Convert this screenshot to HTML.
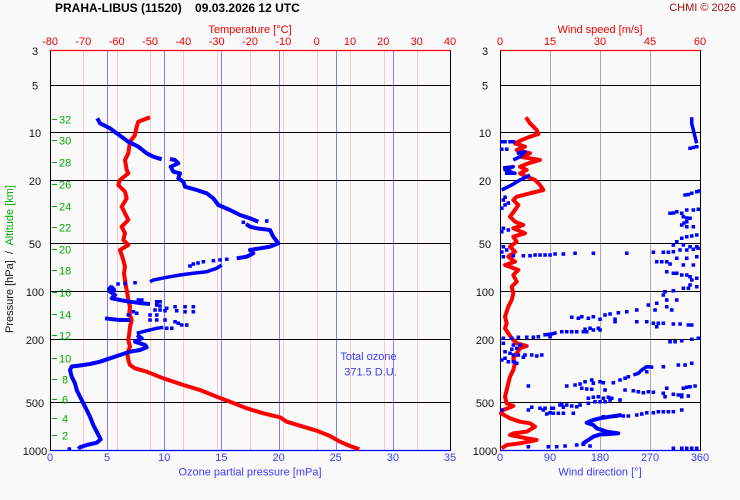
<!DOCTYPE html>
<html><head><meta charset="utf-8"><style>
html,body{margin:0;padding:0;background:#fafafa;}
svg{display:block;}
text{font-family:"Liberation Sans",Arial,sans-serif;font-size:11px;}
</style></head><body>
<svg width="740" height="500" viewBox="0 0 740 500" xmlns="http://www.w3.org/2000/svg">
<rect width="740" height="500" fill="#fafafa"/>
<!-- titles -->
<text x="55" y="12" font-weight="bold" style="font-size:12px" fill="#000" xml:space="preserve">PRAHA-LIBUS (11520)    09.03.2026 12 UTC</text>
<text x="736" y="11" text-anchor="end" fill="#a01010">CHMI © 2026</text>
<text x="250" y="33" text-anchor="middle" fill="#e00">Temperature [°C]</text>
<text x="600" y="33" text-anchor="middle" fill="#e00">Wind speed [m/s]</text>
<g fill="#e00" text-anchor="middle">
<text x="50" y="45">-80</text><text x="83.3" y="45">-70</text><text x="116.7" y="45">-60</text><text x="150" y="45">-50</text><text x="183.3" y="45">-40</text><text x="216.7" y="45">-30</text><text x="250" y="45">-20</text><text x="283.3" y="45">-10</text><text x="316.7" y="45">0</text><text x="350" y="45">10</text><text x="383.3" y="45">20</text><text x="416.7" y="45">30</text><text x="450" y="45">40</text>
<text x="500" y="45">0</text><text x="550" y="45">15</text><text x="600" y="45">30</text><text x="650" y="45">45</text><text x="700" y="45">60</text>
</g>
<!-- grid left -->
<g stroke="#ffc4c4" stroke-width="1">
<line x1="83.5" y1="50" x2="83.5" y2="450"/><line x1="117.5" y1="50" x2="117.5" y2="450"/><line x1="150.5" y1="50" x2="150.5" y2="450"/><line x1="183.5" y1="50" x2="183.5" y2="450"/><line x1="217.5" y1="50" x2="217.5" y2="450"/><line x1="250.5" y1="50" x2="250.5" y2="450"/><line x1="283.5" y1="50" x2="283.5" y2="450"/><line x1="317.5" y1="50" x2="317.5" y2="450"/><line x1="350.5" y1="50" x2="350.5" y2="450"/><line x1="384.5" y1="50" x2="384.5" y2="450"/><line x1="417.5" y1="50" x2="417.5" y2="450"/>
</g>
<g stroke="#8080ff" stroke-width="1">
<line x1="107.5" y1="50" x2="107.5" y2="450"/><line x1="164.5" y1="50" x2="164.5" y2="450"/><line x1="221.5" y1="50" x2="221.5" y2="450"/><line x1="279.5" y1="50" x2="279.5" y2="450"/><line x1="336.5" y1="50" x2="336.5" y2="450"/><line x1="393.5" y1="50" x2="393.5" y2="450"/>
</g>
<g stroke="#aaa" stroke-width="1">
<line x1="550.5" y1="50" x2="550.5" y2="450"/><line x1="600.5" y1="50" x2="600.5" y2="450"/><line x1="650.5" y1="50" x2="650.5" y2="450"/>
</g>
<!-- horizontal pressure lines -->
<g stroke="#000" stroke-width="1">
<line x1="50" y1="85.5" x2="451" y2="85.5"/><line x1="50" y1="132.5" x2="451" y2="132.5"/><line x1="50" y1="180.5" x2="451" y2="180.5"/><line x1="50" y1="243.5" x2="451" y2="243.5"/><line x1="50" y1="291.5" x2="451" y2="291.5"/><line x1="50" y1="339.5" x2="451" y2="339.5"/><line x1="50" y1="402.5" x2="451" y2="402.5"/>
<line x1="500" y1="85.5" x2="701" y2="85.5"/><line x1="500" y1="132.5" x2="701" y2="132.5"/><line x1="500" y1="180.5" x2="701" y2="180.5"/><line x1="500" y1="243.5" x2="701" y2="243.5"/><line x1="500" y1="291.5" x2="701" y2="291.5"/><line x1="500" y1="339.5" x2="701" y2="339.5"/><line x1="500" y1="402.5" x2="701" y2="402.5"/>
<line x1="50.5" y1="50" x2="50.5" y2="451"/><line x1="450.5" y1="50" x2="450.5" y2="451"/>
<line x1="500.5" y1="50" x2="500.5" y2="451"/><line x1="700.5" y1="50" x2="700.5" y2="451"/>
</g>
<g stroke="#f00" stroke-width="1.2"><line x1="50" y1="50.5" x2="451" y2="50.5"/><line x1="500" y1="50.5" x2="701" y2="50.5"/></g>
<g stroke="#00f" stroke-width="1.2"><line x1="50" y1="450.5" x2="451" y2="450.5"/><line x1="500" y1="450.5" x2="701" y2="450.5"/></g>
<!-- pressure labels -->
<g fill="#111" text-anchor="middle">
<text x="35" y="55">3</text><text x="35" y="89.5">5</text><text x="35" y="137">10</text><text x="35" y="185">20</text><text x="35" y="248">50</text><text x="35" y="296">100</text><text x="35" y="344">200</text><text x="35" y="407">500</text><text x="35" y="455">1000</text>
<text x="485" y="55">3</text><text x="485" y="89.5">5</text><text x="485" y="137">10</text><text x="485" y="185">20</text><text x="485" y="248">50</text><text x="485" y="296">100</text><text x="485" y="344">200</text><text x="485" y="407">500</text><text x="485" y="455">1000</text>
</g>
<!-- altitude ticks -->
<g stroke="#0a0" stroke-width="1">
<line x1="52" y1="119.5" x2="57" y2="119.5"/><line x1="52" y1="140.5" x2="57" y2="140.5"/><line x1="52" y1="162.5" x2="57" y2="162.5"/><line x1="52" y1="184.5" x2="57" y2="184.5"/><line x1="52" y1="206.5" x2="57" y2="206.5"/><line x1="52" y1="227.5" x2="57" y2="227.5"/><line x1="52" y1="249.5" x2="57" y2="249.5"/><line x1="52" y1="270.5" x2="57" y2="270.5"/><line x1="52" y1="292.5" x2="57" y2="292.5"/><line x1="52" y1="314.5" x2="57" y2="314.5"/><line x1="52" y1="335.5" x2="57" y2="335.5"/><line x1="52" y1="358.5" x2="57" y2="358.5"/><line x1="52" y1="379.5" x2="57" y2="379.5"/><line x1="52" y1="399.5" x2="57" y2="399.5"/><line x1="52" y1="418.5" x2="57" y2="418.5"/><line x1="52" y1="435.5" x2="57" y2="435.5"/>
</g>
<g fill="#0a0">
<text x="59" y="123.5">32</text><text x="59" y="144.5">30</text><text x="59" y="166.5">28</text><text x="59" y="188.5">26</text><text x="59" y="210.5">24</text><text x="59" y="231.5">22</text><text x="59" y="253.5">20</text><text x="59" y="274.5">18</text><text x="59" y="296.5">16</text><text x="59" y="318.5">14</text><text x="59" y="339.5">12</text><text x="59" y="362.5">10</text><text x="62" y="383.5">8</text><text x="62" y="403.5">6</text><text x="62" y="422.5">4</text><text x="62" y="439.5">2</text>
</g>
<text transform="translate(13,259) rotate(-90)" text-anchor="middle" fill="#111" xml:space="preserve">Pressure [hPa]  /  <tspan fill="#0a0">Altitude [km]</tspan></text>
<!-- bottom labels -->
<g fill="#3a3aff" text-anchor="middle">
<text x="50" y="461">0</text><text x="107.1" y="461">5</text><text x="164.3" y="461">10</text><text x="221.4" y="461">15</text><text x="278.6" y="461">20</text><text x="335.7" y="461">25</text><text x="392.9" y="461">30</text><text x="450" y="461">35</text>
<text x="500" y="461">0</text><text x="550" y="461">90</text><text x="600" y="461">180</text><text x="650" y="461">270</text><text x="700" y="461">360</text>
<text x="250" y="475.5">Ozone partial pressure [mPa]</text>
<text x="600" y="475.5">Wind direction [°]</text>
<text x="368.5" y="360">Total ozone</text>
<text x="370.5" y="375.5">371.5 D.U.</text>
</g>
<!-- temperature -->
<polyline fill="none" stroke="#f00" stroke-width="4" stroke-linejoin="round" points="150,117.3 138.3,121.7 136.7,126.7 135,135 130,141.7 128.3,153.3 125,160 126.7,170 128.3,173.3 120,180 118.3,185 125,191.7 126.7,198.3 121.7,206.7 125,213.3 128.3,220 121.7,226.7 125,233.3 123.3,240 128.3,245 120,250 121.7,255 123.3,260 125,266.7 124,273.3 125,280 126,286.7 127.3,293.3 128.3,300 130,306.7 129.3,313.3 131.7,320 130,326.7 129.3,333.3 128.3,340 130,346.7 127.3,353.3 128.3,360 130,365 135,368.3 146.7,371.7 163.3,378.3 183.3,385 200,390 216.7,396.7 230,401.7 246.7,408.3 263.3,413.3 280,417.3 286.7,421.7 303.3,426.7 316.7,430.7 330,436 340,441.7 350,446 359.3,449.3"/>
<!-- ozone -->
<g fill="none" stroke="#00f" stroke-width="4" stroke-linejoin="round">
<polyline points="97.3,118.3 100,123.3 110,128.3 116.7,133.3 128.3,141.7 138.3,146.7 146.7,153.3 153.3,156.7 161.7,159.3"/>
<polyline points="170,159 175,160 178.3,163.3 170.7,166.7 173.3,171.7 180,173.3 178.3,178.3 183.3,181.7 185,186.7 196.7,190 206.7,193.3 213.3,198.3 218.3,205 230,210 240,215 250,218.3 258.3,221.7"/>
<polyline points="246,224 250,226.7 256.7,228.3 270,230 273.3,236.7 278.3,243.3 270,246.7 260,248.3 250,250 253.3,253.3 246.7,256.7 236.7,258.3"/>
<polyline stroke-width="3.5" points="221.7,265 216.7,268.3 206.7,271.7 193.3,273.3 180,275 166.7,277.3 153.3,280 150,281.7"/>
<polyline points="112,286 109,289 111,292 115,295 111.7,298.3 120,300 130,301.7 141.7,303.3 150,304"/>
<polyline stroke-width="6" points="110,287 113,290 110,294"/>
<polyline points="105,318.3 113.3,319.3 120,320 130,320"/>
<polyline stroke-width="3.5" points="136.7,333.3 146.7,330.7 156.7,328.3 163.3,327.3"/>
<polyline points="137,335 141.7,338.3 135,341.7 145,345 146.7,347.3 140,350 130,351.7 120,355 110,358.3 100,361.7 90,364 80,365.5 71.7,366.5 70,370 71.7,376.7 75,383.3 76.7,390 80,396.7 83.3,403.3 86.7,410 90,416.7 93.3,425 96.7,431.7 100.7,439.3 96.7,442.7 86.7,445 80,447.3 78.3,449"/>
</g>
<path fill="none" stroke="#00f" stroke-width="3.5" stroke-linecap="square" d="M266.7,221h0.1M243.3,222.3h0.1M226.7,259.3h0.1M220,260h0.1M213.3,260.7h0.1M203.3,261.7h0.1M198,263h0.1M193.3,264h0.1M190,266h0.1M135,282.7h0.1M125,283.5h0.1M118,284h0.1M138.3,300h0.1M141.7,300h0.1M156.7,301.7h0.1M160,301.7h0.1M156.7,305h0.1M160,306h0.1M166.7,308.3h0.1M175,306.7h0.1M185,306.7h0.1M193.3,306.7h0.1M160,310h0.1M155,310h0.1M165,310.7h0.1M176.7,310.7h0.1M185,311.7h0.1M193.3,311.7h0.1M150,315h0.1M156.7,315h0.1M165,320h0.1M175,321.7h0.1M178.3,323.3h0.1M181.7,325h0.1M186.7,325h0.1M171.7,328.3h0.1M166.7,328.3h0.1M150,320h0.1M156.7,320h0.1M133.3,311.7h0.1M128.3,315h0.1M136.7,313.3h0.1M69.3,449h0.1"/>
<!-- wind speed -->
<polyline fill="none" stroke="#f00" stroke-width="4" stroke-linejoin="round" points="526,117.3 530,123.3 536.7,130 538.3,134 530,136.7 521.7,140 515,143.3 525,146.7 516.7,150 530,153.3 520,156.7 540,160 528.3,163.3 520,166.7 526.7,170 520,173.3 526.7,176.7 535,180 540,185 543.3,190 530,193.3 516.7,196.7 513.3,200 518.3,205 515,210 510,216.7 515,221.7 523.3,225 513.3,228.3 525,233.3 513.3,236.7 516.7,241.7 510,246.7 515,251.7 508.3,256.7 515,261.7 505,265 518.3,270 513.3,275 516.7,281.7 511.7,286.7 513.3,293.3 511.7,300 508.3,306.7 506.7,311.7 505,316.7 506.7,323.3 505,328.3 508.3,333.3 511.7,338.3 516.7,343.3 526.7,346 520,348.3 516.7,353.3 513.3,358.3 515,363.3 513.3,370 510,376.7 508.3,383.3 506.7,390 505,396.7 506.7,403.3 513.3,406 503.3,410 501,413.3 510,418.3 520,421.7 530,423.3 535,426.7 526.7,431.7 513.3,433.3 510,435 526.7,438.3 536.7,440 520,443.3 506.7,445 501.7,448.3"/>
<!-- wind direction -->
<g fill="none" stroke="#00f" stroke-width="3.5" stroke-linejoin="round">
<polyline points="513.3,160 520,156.7 525,151.7 516.7,153.3"/>
<polyline points="503,168 513.3,166.7 505,170 515,173.3 505,173.3"/>
<polyline points="501.7,190 511.7,185 520,180 526.7,176.7 530,175"/>
<polyline points="691.7,117.3 691.7,123.3 693.3,130 695,136.7 696.7,143.3"/>
<polyline stroke-width="4" points="621.7,415 610,416.7 600,418.3 593.3,420 586.7,422.7 593.3,425 596.7,428.3 606.7,431.7 618.3,433.3 610,434 600,434.5 593.3,436.7 588.3,440 583.3,443.3 583.3,446"/>
<polyline points="543.3,335 551.7,334 556.7,332.7"/>
<polyline points="633.3,375 638.3,373.3 641.7,370 646.7,366.7 653.3,367.3"/>
</g>
<path fill="none" stroke="#00f" stroke-width="3.5" stroke-linecap="square" d="M501.7,141.7h0.1M505,141.7h0.1M510,141.7h0.1M513.3,141.7h0.1M501.7,149.3h0.1M506.7,149.3h0.1M505,197.3h0.1M503.3,200h0.1M508.3,203h0.1M505,205h0.1M501.7,208.3h0.1M503.3,228.3h0.1M508.3,230h0.1M501.7,231.7h0.1M503.3,246.7h0.1M506.7,250h0.1M503.3,256.7h0.1M501.7,252h0.1M513.3,255.7h0.1M523.3,255.7h0.1M530,255.7h0.1M535,255h0.1M540,255h0.1M545,255h0.1M550,255h0.1M555,254h0.1M563.3,254h0.1M575,253.3h0.1M593.3,253.3h0.1M626.7,253.3h0.1M653.3,252.3h0.1M663.3,252.3h0.1M668.3,252.3h0.1M673.3,251.7h0.1M680,250h0.1M686.7,250h0.1M693.3,249.3h0.1M698,248.3h0.1M690,148.3h0.1M693.3,147.5h0.1M696.7,146.7h0.1M685,195h0.1M688.3,194.5h0.1M691.7,193.3h0.1M696.7,191.7h0.1M699,191h0.1M670,213.3h0.1M673.3,213h0.1M676.7,211.7h0.1M681.7,213.3h0.1M686.7,210h0.1M693.3,210h0.1M698.3,209.3h0.1M683.3,216.7h0.1M686.7,218h0.1M690,218.3h0.1M686.7,221.7h0.1M681.7,225h0.1M686.7,226.7h0.1M693.3,226.7h0.1M684,223h0.1M686.7,236.7h0.1M691.7,236h0.1M696.7,235h0.1M681.7,238.3h0.1M676.7,241.7h0.1M673.3,245h0.1M683.3,245h0.1M690,246.7h0.1M696.7,246.7h0.1M656.7,261.7h0.1M661.7,261.7h0.1M666.7,261.7h0.1M676.7,258.3h0.1M686.7,258.3h0.1M696.7,256.7h0.1M670,264h0.1M683.3,265h0.1M693.3,265h0.1M666.7,271.7h0.1M673.3,273.3h0.1M681.7,275h0.1M690,276.7h0.1M696.7,278.3h0.1M676.7,273.3h0.1M686.7,275h0.1M691.7,280h0.1M690,285h0.1M696.7,286.7h0.1M683.3,288.3h0.1M688.3,288.3h0.1M665,291.7h0.1M663.3,295h0.1M673.3,290.7h0.1M676.7,300h0.1M666.7,300h0.1M656.7,303.3h0.1M648.3,305h0.1M666.7,306.7h0.1M671.7,310h0.1M655,310h0.1M636.7,310h0.1M626.7,311.7h0.1M618.3,312.7h0.1M610,314h0.1M605,315h0.1M581.7,316.7h0.1M571.7,317.3h0.1M593.3,316.7h0.1M600,319.3h0.1M588.3,318.3h0.1M578.3,318.3h0.1M615,319.3h0.1M615,321.7h0.1M636.7,321.7h0.1M646.7,321.7h0.1M653.3,323.3h0.1M658.3,323.3h0.1M663.3,323.3h0.1M673.3,324h0.1M680,324h0.1M688.3,325h0.1M691.7,325h0.1M656.7,326.7h0.1M598.3,328.3h0.1M590,328.3h0.1M585,329.3h0.1M586.7,331.7h0.1M593.3,330h0.1M600,330h0.1M561.7,331.7h0.1M566.7,331.7h0.1M571.7,331.7h0.1M576.7,331.7h0.1M583.3,331.7h0.1M550,336.7h0.1M538.3,336.7h0.1M533.3,337.3h0.1M526.7,337.3h0.1M518.3,337.3h0.1M511.7,338.3h0.1M503.3,338.3h0.1M698.3,338.3h0.1M691.7,339.3h0.1M681.7,340.7h0.1M675,341.7h0.1M670,341.7h0.1M503.3,343.3h0.1M513.3,345h0.1M520,345h0.1M516.7,348.3h0.1M511.7,349.3h0.1M505,351.7h0.1M510,353.3h0.1M513.3,355h0.1M518.3,355h0.1M525,355h0.1M531.7,355h0.1M536.7,356h0.1M541.7,355h0.1M523.3,357.3h0.1M505,358.3h0.1M501.7,360h0.1M508.3,361.7h0.1M513.3,361.7h0.1M516.7,363.3h0.1M646.7,371.7h0.1M663.3,366.7h0.1M678.3,365h0.1M685,365h0.1M691.7,363.3h0.1M628.3,376.7h0.1M625,378.3h0.1M620,380h0.1M613.3,382.7h0.1M603.3,382.7h0.1M593.3,383.3h0.1M585,381.7h0.1M580,384h0.1M575,385h0.1M566.7,386h0.1M591.7,380h0.1M600,381.7h0.1M528.3,386h0.1M581.7,388.3h0.1M586.7,389h0.1M591.7,389.3h0.1M605,390h0.1M625,390h0.1M633.3,390.7h0.1M638.3,391.7h0.1M643.3,392.7h0.1M648.3,391.7h0.1M653.3,392.3h0.1M666.7,388.3h0.1M683.3,388.3h0.1M686.7,387.3h0.1M690,386.7h0.1M695,386h0.1M663.3,393.3h0.1M673.3,394.3h0.1M678.3,395h0.1M681.7,395h0.1M688.3,396h0.1M665,396.7h0.1M681.7,396.7h0.1M588.3,398.3h0.1M593.3,397.3h0.1M598.3,396.7h0.1M603.3,398.3h0.1M608.3,397.3h0.1M611.7,398.3h0.1M595,401.7h0.1M600,401.7h0.1M605,401.7h0.1M588.3,403.3h0.1M610,400h0.1M620,400h0.1M561.7,404h0.1M566.7,405h0.1M571.7,406h0.1M576.7,406.7h0.1M580,405h0.1M563.3,407.3h0.1M551.7,408.3h0.1M545,408.3h0.1M540,408.3h0.1M531.7,407.3h0.1M528.3,410h0.1M501.7,410h0.1M543.3,410h0.1M550,412.7h0.1M546.7,414h0.1M553.3,413.3h0.1M558.3,413.3h0.1M563.3,413.3h0.1M573.3,413.3h0.1M560,405h0.1M553.3,408.3h0.1M616.7,416h0.1M623.3,416h0.1M628.3,416h0.1M636.7,415h0.1M641.7,414h0.1M646.7,412.7h0.1M653.3,412.7h0.1M658.3,411.7h0.1M663.3,411.7h0.1M668.3,411.7h0.1M673.3,411.7h0.1M681.7,410h0.1M603.3,416.7h0.1M528.3,446.7h0.1M548.3,446.7h0.1M556.7,446.7h0.1M565,446h0.1M576.7,445h0.1M590,446h0.1M673.3,448.3h0.1M681.7,448.3h0.1M686.7,448.3h0.1M691.7,448.3h0.1M696.7,448.3h0.1"/>
</svg>
</body></html>
